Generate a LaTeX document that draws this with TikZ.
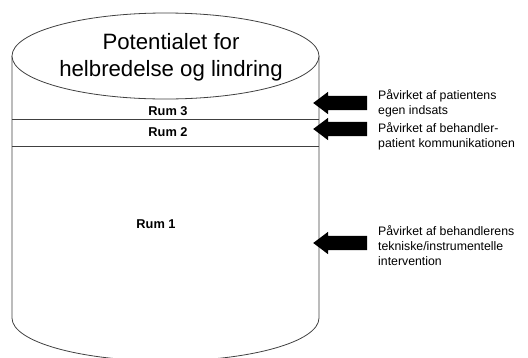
\documentclass[tikz,border=0pt]{standalone}
\usepackage{fontspec}
\setmainfont{Liberation Sans}
\usetikzlibrary{shapes.arrows}
\begin{document}
\begin{tikzpicture}[x=1pt,y=-1pt,
  outline/.style={draw=black!75,line width=0.8pt},
  blockarrow/.style={single arrow,fill=black,draw=none,shape border rotate=180,
    minimum height=54pt,minimum width=22pt,inner sep=0pt,single arrow head extend=4pt,
    single arrow tip angle=74,text width=0pt,text height=14pt,text depth=0pt},
  sidelabel/.style={anchor=west,align=left,font=\fontsize{12.3}{15}\selectfont,inner sep=0pt},
  rumlabel/.style={font=\bfseries\fontsize{12.8}{14}\selectfont,inner sep=0pt}]
\clip (0,0) rectangle (528,357);
\useasboundingbox (0,0) rectangle (528,357);
% cylinder
\coordinate (tl) at (12,56);
\coordinate (tr) at (319,56);
\coordinate (bl) at (12,318);
\coordinate (br) at (319,318);
\draw[outline] (tl) -- (bl) arc[start angle=180,end angle=0,x radius=153.5,y radius=43] -- (tr);
\draw[outline,fill=white] (165.5,56) ellipse[x radius=153.5,y radius=43];
\node[font=\fontsize{22.2}{27}\selectfont,align=center,inner sep=0pt] (title) at (171,57)
  {Potentialet for\\helbredelse og lindring};
% layer lines
\coordinate (l1a) at (12,119); \coordinate (l1b) at (319,119);
\coordinate (l2a) at (12,146); \coordinate (l2b) at (319,146);
\draw[outline,line width=0.6pt] (l1a) -- (l1b);
\draw[outline,line width=0.6pt] (l2a) -- (l2b);
\node[rumlabel] (rum3) at (168,111) {Rum 3};
\node[rumlabel] (rum2) at (168,132) {Rum 2};
\node[rumlabel] (rum1) at (156,224) {Rum 1};
% arrows
\node[blockarrow] (a3) at (345,103) {};
\node[blockarrow] (a2) at (345,129) {};
\node[blockarrow] (a1) at (345,243) {};
\node[sidelabel] (t3) at (378,103) {Påvirket af patientens\\egen indsats};
\node[sidelabel] (t2) at (378,136) {Påvirket af behandler-\\patient kommunikationen};
\node[sidelabel] (t1) at (378,246) {Påvirket af behandlerens\\tekniske/instrumentelle\\intervention};
\end{tikzpicture}
\end{document}
